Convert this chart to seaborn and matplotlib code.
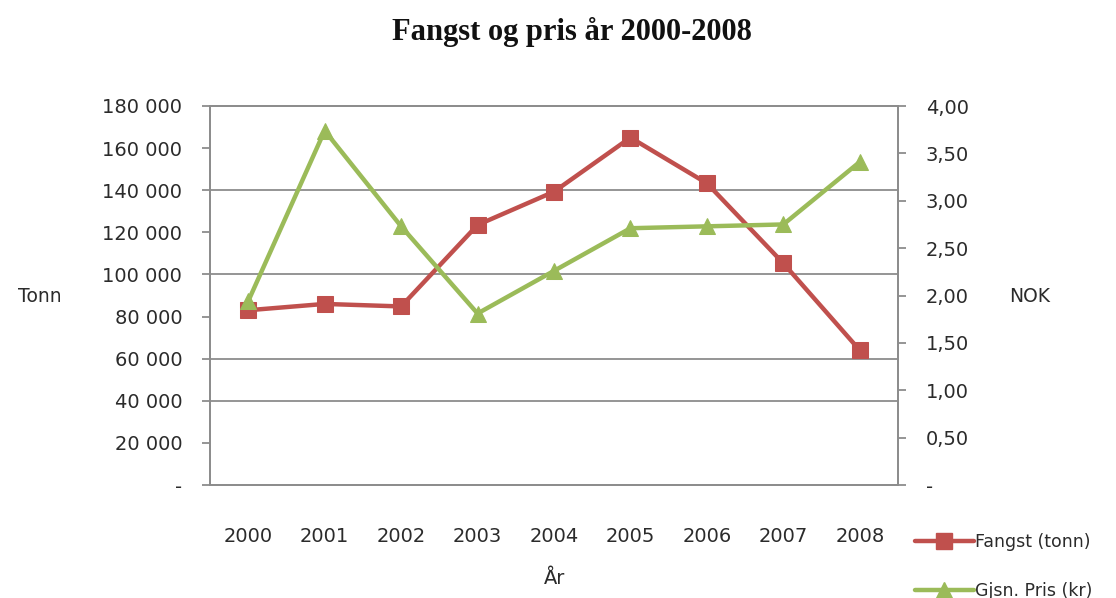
import matplotlib
matplotlib.use("Agg")
import matplotlib.pyplot as plt
import seaborn as sns
import pandas as pd
from matplotlib.lines import Line2D
from matplotlib.ticker import FuncFormatter

years = ["2000", "2001", "2002", "2003", "2004", "2005", "2006", "2007", "2008"]
fangst = [83000, 86000, 84800, 123500, 139300, 165000, 143300, 105300, 64000]
pris = [1.94, 3.74, 2.73, 1.81, 2.26, 2.71, 2.73, 2.75, 3.41]
left_ticks = [0, 20000, 40000, 60000, 80000, 100000, 120000, 140000, 160000, 180000]
right_ticks = [0, 0.5, 1.0, 1.5, 2.0, 2.5, 3.0, 3.5, 4.0]
grid_values = [40000, 60000, 100000, 140000]

title = "Fangst og pris år 2000-2008"
label_fangst = "Fangst (tonn)"
label_pris = "Gjsn. Pris (kr)"

red = "#C0504D"
green = "#9BBB59"
gray = "#8C8C8C"
txt = "#2b2b2b"

sns.set_style("white")
plt.rcParams["font.family"] = ["DejaVu Sans"]

df = pd.DataFrame({"x": range(len(years)), "year": years, "fangst": fangst, "pris": pris})

fig = plt.figure(figsize=(11.16, 5.98), dpi=100)
ax = fig.add_axes([210/1116, 1-485/598, 688/1116, 379/598])
ax2 = ax.twinx()

for v in grid_values:
    ax.axhline(v, color=gray, lw=1.3, zorder=0)

sns.lineplot(data=df, x="x", y="fangst", ax=ax, color=red, lw=3.2, marker="s",
             markersize=11, markeredgecolor=red, legend=False, zorder=3)
sns.lineplot(data=df, x="x", y="pris", ax=ax2, color=green, lw=3.2, marker="^",
             markersize=12, markeredgecolor=green, legend=False, zorder=3)

ax.set_xlim(-0.5, len(years) - 0.5)
ax.set_ylim(0, 180000)
ax2.set_ylim(0, 4.0)
ax.set_yticks(left_ticks)
ax2.set_yticks(right_ticks)
ax.yaxis.set_major_formatter(FuncFormatter(lambda v, p: "-" if v == 0 else f"{int(v):,}".replace(",", " ")))
ax2.yaxis.set_major_formatter(FuncFormatter(lambda v, p: "-" if v == 0 else f"{v:.2f}".replace(".", ",")))
ax.set_xticks(range(len(years)))
ax.set_xticklabels(years)

for a in (ax, ax2):
    for s in a.spines.values():
        s.set_color(gray)
        s.set_linewidth(1.3)
    a.tick_params(colors=gray, labelcolor=txt, labelsize=14, length=6, width=1.3, direction="out")
ax.tick_params(axis="y", pad=14)
ax2.tick_params(axis="y", pad=14)
ax.tick_params(axis="x", length=0, pad=30)
ax.set_xlabel("")
ax.set_ylabel("")
ax2.set_ylabel("")

fig.text(572/1116, 1-32/598, title, ha="center", va="center", fontsize=22,
         fontweight="bold", family="Liberation Serif", color="#111111")
fig.text(40/1116, 1-297/598, "Tonn", ha="center", va="center", fontsize=13.5, color=txt)
fig.text(1030/1116, 1-297/598, "NOK", ha="center", va="center", fontsize=13.5, color=txt)
fig.text(555/1116, 1-579/598, "År", ha="center", va="center", fontsize=14, color=txt)

handles = [Line2D([], [], color=red, lw=3.2, marker="s", markersize=11),
           Line2D([], [], color=green, lw=3.2, marker="^", markersize=12)]
fig.legend(handles, [label_fangst, label_pris], loc="upper left",
           bbox_to_anchor=(906/1116, 1-524/598), frameon=False, fontsize=12.5,
           handlelength=3.4, handletextpad=0.1, labelspacing=1.8, borderpad=0,
           labelcolor=txt)

fig.savefig("out.png", dpi=100)
